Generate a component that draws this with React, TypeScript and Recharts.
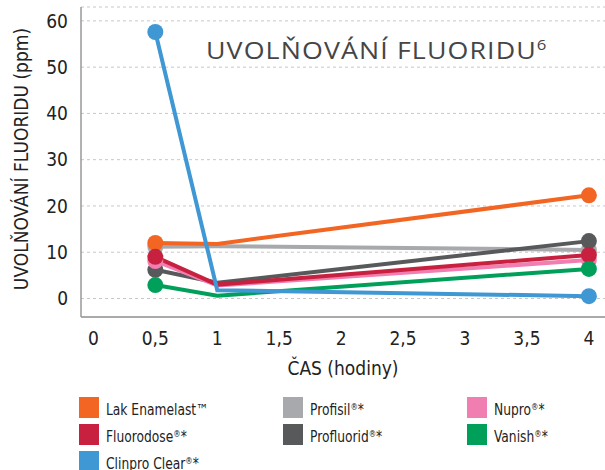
import React from 'react';
import { LineChart, Line, XAxis, YAxis, CartesianGrid, Label } from 'recharts';

const times = [0.5, 1, 4];
const lakEnamelast = [12.0, 11.8, 22.3];
const profisil = [11.2, 11.3, 10.5];
const profluorid = [6.2, 3.4, 12.4];
const nupro = [8.1, 2.8, 8.3];
const fluorodose = [9.0, 3.0, 9.4];
const vanish = [2.9, 0.6, 6.4];
const clinproClear = [57.6, 1.8, 0.5];

const xTicks = [0, 0.5, 1, 1.5, 2, 2.5, 3, 3.5, 4];
const yTicks = [0, 10, 20, 30, 40, 50, 60];

const series = [
  { key: 'profisil', name: 'Profisil®*', color: '#A7A9AC', values: profisil },
  { key: 'lak', name: 'Lak Enamelast™', color: '#F26522', values: lakEnamelast },
  { key: 'profluorid', name: 'Profluorid®*', color: '#58595B', values: profluorid },
  { key: 'nupro', name: 'Nupro®*', color: '#F07EB0', values: nupro },
  { key: 'fluorodose', name: 'Fluorodose®*', color: '#C8203F', values: fluorodose },
  { key: 'vanish', name: 'Vanish®*', color: '#00A05A', values: vanish },
  { key: 'clinpro', name: 'Clinpro Clear®*', color: '#3F97D3', values: clinproClear },
];

const legendOrder = ['lak', 'profisil', 'nupro', 'fluorodose', 'profluorid', 'vanish', 'clinpro'];

const data = times.map((t, i) => {
  const row: Record<string, number> = { t };
  series.forEach((s) => {
    row[s.key] = s.values[i];
  });
  return row;
});

const FONT = '"DejaVu Sans Condensed", "Liberation Sans Narrow", sans-serif';

const renderName = (name: string) => {
  const parts = name.split(/(®)/);
  return parts.map((p, i) =>
    p === '®' ? (
      <span key={i} style={{ fontSize: '0.6em', verticalAlign: '0.55em' }}>®</span>
    ) : (
      <span key={i}>{p}</span>
    )
  );
};

const fmt = (v: number) => String(v).replace('.', ',');

const makeDot = (color: string) => (props: any) => {
  const { cx, cy, index } = props;
  if (index === 0 || index === times.length - 1) {
    return <circle key={`d-${index}`} cx={cx} cy={cy} r={8} fill={color} stroke="none" />;
  }
  return <g key={`d-${index}`} />;
};

export default function App() {
  return (
    <div style={{ position: 'absolute', left: 0, top: 0, width: 605, height: 470, background: '#fff', overflow: 'hidden' }}>
      <LineChart width={605} height={470} data={data} margin={{ top: 7, right: 0, bottom: 93, left: 0 }}>
        <CartesianGrid vertical={false} stroke="#c8c8c8" strokeDasharray="3 3" />
        <XAxis
          dataKey="t"
          type="number"
          domain={[-0.1, 4.13]}
          ticks={xTicks}
          tickFormatter={fmt}
          tickLine={false}
          axisLine={{ stroke: '#aaaaaa', strokeWidth: 2 }}
          tickMargin={9}
          height={60}
          interval={0}
          tick={{ fontFamily: FONT, fontSize: 19, fill: '#222' }}
        >
          <Label
            value="ČAS (hodiny)"
            position="insideBottom"
            offset={2}
            style={{ fontFamily: FONT, fontSize: 19, fill: '#222' }}
          />
        </XAxis>
        <YAxis
          type="number"
          domain={[-4, 63]}
          ticks={yTicks}
          tickLine={false}
          axisLine={{ stroke: '#999999', strokeWidth: 1.5 }}
          tickMargin={7}
          width={81}
          interval={0}
          tick={{ fontFamily: FONT, fontSize: 19, fill: '#222' }}
        >
          <Label
            content={(props: any) => {
              const vb = props.viewBox || {};
              const cx = 21;
              const cy = vb.y + vb.height / 2 - 3;
              return (
                <text
                  x={cx}
                  y={cy}
                  transform={`rotate(-90, ${cx}, ${cy})`}
                  textAnchor="middle"
                  dominantBaseline="central"
                  style={{ fontFamily: FONT, fontSize: 19, fill: '#222' }}
                >
                  UVOLŇOVÁNÍ FLUORIDU (ppm)
                </text>
              );
            }}
          />
        </YAxis>
        {series.map((s) => (
          <Line
            key={s.key}
            dataKey={s.key}
            name={s.name}
            stroke={s.color}
            strokeWidth={4}
            dot={makeDot(s.color)}
            activeDot={false}
            isAnimationActive={false}
          />
        ))}
      </LineChart>
      <div
        style={{
          position: 'absolute',
          left: 206,
          top: 29,
          fontFamily: '"Open Sans", sans-serif',
          fontSize: 24,
          color: '#454545',
          letterSpacing: 1,
          whiteSpace: 'nowrap',
          lineHeight: '30px',
          transform: 'scaleX(1.115)',
          transformOrigin: 'left center',
        }}
      >
        UVOLŇOVÁNÍ FLUORIDU<span style={{ fontSize: 15, verticalAlign: 9, letterSpacing: 0 }}>6</span>
      </div>
      <div
        style={{
          position: 'absolute',
          left: 79,
          top: 397,
          display: 'grid',
          gridTemplateColumns: '204px 184px auto',
          rowGap: 6,
          fontFamily: FONT,
          fontSize: 15,
          color: '#222',
        }}
      >
        {legendOrder.map((k) => {
          const s = series.find((x) => x.key === k)!;
          return (
            <div key={k} style={{ display: 'flex', alignItems: 'center', height: 21 }}>
              <div style={{ width: 20, height: 21, background: s.color, marginRight: 7, flex: 'none' }} />
              <span
                style={{
                  whiteSpace: 'nowrap',
                  marginTop: 4,
                  display: 'inline-block',
                  transform: 'scaleX(0.91)',
                  transformOrigin: 'left center',
                }}
              >
                {renderName(s.name)}
              </span>
            </div>
          );
        })}
      </div>
    </div>
  );
}
